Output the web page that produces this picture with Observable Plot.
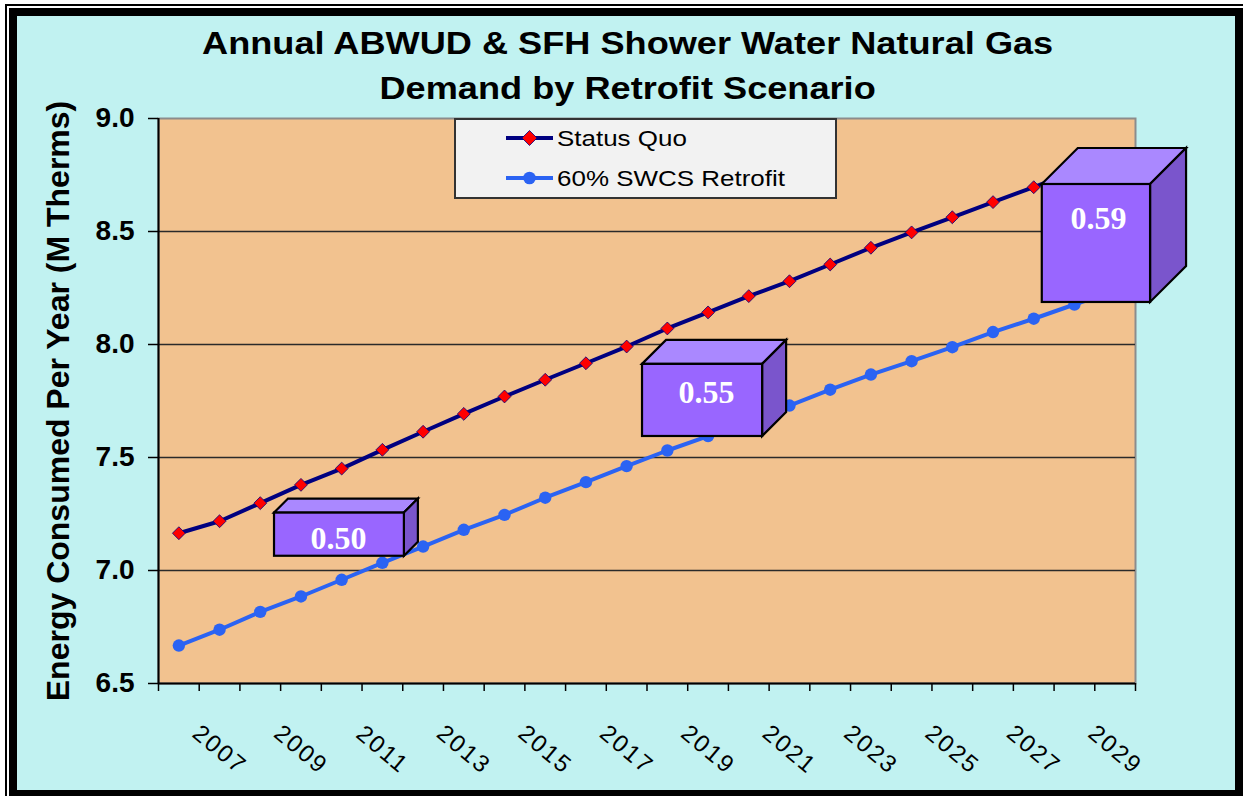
<!DOCTYPE html>
<html>
<head>
<meta charset="utf-8">
<script src="https://cdn.jsdelivr.net/npm/d3@7"></script>
<script src="https://cdn.jsdelivr.net/npm/@observablehq/plot@0.6"></script>
<style>
  html, body { margin: 0; padding: 0; background: #fff; }
  #page { position: relative; width: 1243px; height: 796px; overflow: hidden; background: #fff;
          font-family: "Liberation Sans", Arial, sans-serif; }
  #outer { position: absolute; left: 5px; top: 4px; width: 1260px; height: 820px;
           border-left: 2px solid #000; border-top: 2px solid #000; }
  #blk { position: absolute; left: 9px; top: 8px; width: 1240px; height: 800px; background: #000; }
  #bg { position: absolute; left: 17px; top: 16px; width: 1218px; height: 774px; background: #C1F2F1; }
  #chart { position: absolute; left: 0; top: 0; }
  .tline { position: absolute; left: 0; width: 1256px; text-align: center; font-weight: bold;
           font-size: 32px; line-height: 45px; color: #000; }
  .tline span { display: inline-block; transform: scaleX(1.13); transform-origin: center; }
  #legend { position: absolute; left: 454px; top: 118px; width: 383px; height: 81px; box-sizing: border-box;
            background: #F2F2F2; border: 2px solid #333; }
  .lgsw { position: absolute; left: 504px; width: 52px; height: 20px; }
  .lgtx { position: absolute; left: 557px; font-size: 22px; line-height: 22px; color: #000;
          transform: scaleX(1.18); transform-origin: left center; white-space: nowrap; }
  .xlab text { letter-spacing: 2px; }
</style>
</head>
<body>
<div id="page">
  <div id="outer"></div>
  <div id="blk"></div>
  <div id="bg"></div>
  <div id="chart"></div>
  <div class="tline" style="top:21px"><span>Annual ABWUD &amp; SFH Shower Water Natural Gas</span></div>
  <div class="tline" style="top:66px"><span>Demand by Retrofit Scenario</span></div>
  <div id="legend"></div>
  <svg class="lgsw" style="top:128px" viewBox="0 0 52 20">
    <line x1="2" y1="10" x2="49" y2="10" stroke="#000080" stroke-width="4"/>
    <polygon points="25.5,2.5 33,10 25.5,17.5 18,10" fill="#FF0000" stroke="#000080" stroke-width="0.8"/>
  </svg>
  <div class="lgtx" style="top:128px">Status Quo</div>
  <svg class="lgsw" style="top:168px" viewBox="0 0 52 20">
    <line x1="2" y1="10" x2="49" y2="10" stroke="#2B63F3" stroke-width="4"/>
    <circle cx="25.5" cy="10" r="6.3" fill="#2B63F3"/>
  </svg>
  <div class="lgtx" style="top:168px">60% SWCS Retrofit</div>
</div>
<script>
// ---- data ----
const years = [2006, 2007, 2008, 2009, 2010, 2011, 2012, 2013, 2014, 2015, 2016, 2017,
               2018, 2019, 2020, 2021, 2022, 2023, 2024, 2025, 2026, 2027, 2028, 2029];
const statusQuo = [7.165, 7.218, 7.298, 7.379, 7.451, 7.534, 7.614, 7.693, 7.770, 7.844, 7.917, 7.991,
                   8.071, 8.142, 8.214, 8.280, 8.354, 8.428, 8.496, 8.563, 8.630, 8.696, 8.765, 8.833];
const retrofit  = [6.668, 6.738, 6.817, 6.885, 6.959, 7.034, 7.106, 7.180, 7.246, 7.322, 7.391, 7.462,
                   7.531, 7.595, 7.662, 7.730, 7.800, 7.867, 7.926, 7.988, 8.055, 8.114, 8.177, 8.240];
const seriesNames = ["Status Quo", "60% SWCS Retrofit"];
const yTicks = [6.5, 7.0, 7.5, 8.0, 8.5, 9.0];
const xTickLabels = [2007, 2009, 2011, 2013, 2015, 2017, 2019, 2021, 2023, 2025, 2027, 2029];
const yTitle = "Energy Consumed Per Year (M Therms)";

// savings callouts (difference labels)
const calloutLabels = ["0.50", "0.55", "0.59"];
// callout geometry (annotation placement, in data units; depth in px)
const calloutBoxes = [
  {x1: 2008.35, x2: 2011.54, yTop: 7.254, yBot: 7.063, depth: 14},
  {x1: 2017.39, x2: 2020.34, yTop: 7.912, yBot: 7.593, depth: 24},
  {x1: 2027.21, x2: 2029.87, yTop: 8.708, yBot: 8.186, depth: 36}
];
const calloutText = [
  {x: 2009.92, y: 7.097},
  {x: 2018.96, y: 7.739},
  {x: 2028.59, y: 8.513}
];

// ---- build tables ----
const sqRows = years.map((yr, i) => ({year: yr, value: statusQuo[i], series: seriesNames[0]}));
const rfRows = years.map((yr, i) => ({year: yr, value: retrofit[i], series: seriesNames[1]}));
const xBounds = years.map(y => y - 0.5).concat([years[years.length - 1] + 0.5]);
const textRows = calloutLabels.map((t, i) => ({...calloutText[i], text: t}));

function boxes(index, scales) {
  const sx = scales.x, sy = scales.y;
  const g = d3.create("svg:g");
  for (const b of calloutBoxes) {
    const x1 = sx(b.x1), x2 = sx(b.x2), yt = sy(b.yTop), yb = sy(b.yBot), d = b.depth;
    const common = sel => sel.attr("stroke", "#000").attr("stroke-width", 2.2).attr("stroke-linejoin", "miter");
    g.append("polygon")
      .attr("points", [[x1, yt], [x1 + d, yt - d], [x2 + d, yt - d], [x2, yt]].map(p => p.join(",")).join(" "))
      .attr("fill", "#AA88FF").call(common);
    g.append("polygon")
      .attr("points", [[x2, yt], [x2 + d, yt - d], [x2 + d, yb - d], [x2, yb]].map(p => p.join(",")).join(" "))
      .attr("fill", "#7A55CC").call(common);
    g.append("rect").attr("x", x1).attr("y", yt).attr("width", x2 - x1).attr("height", yb - yt)
      .attr("fill", "#9966FF").call(common);
  }
  return g.node();
}

const chart = Plot.plot({
  width: 1243,
  height: 796,
  marginLeft: 158,
  marginRight: 108,
  marginTop: 118,
  marginBottom: 113,
  x: {domain: [2005.5, 2029.5], axis: null},
  y: {domain: [6.5, 9.0], axis: null},
  style: {background: "transparent", fontFamily: "'Liberation Sans', Arial, sans-serif", color: "#000", overflow: "visible"},
  marks: [
    Plot.frame({fill: "#F2C28F", stroke: "#8c8c8c", strokeWidth: 2}),
    Plot.ruleY(yTicks.filter(v => v > 6.5 && v < 9.0), {stroke: "#2a2a2a", strokeWidth: 1.5}),
    Plot.ruleY([6.5], {stroke: "#000", strokeWidth: 2}),
    Plot.ruleX([2005.5], {stroke: "#000", strokeWidth: 2}),
    Plot.axisY({ticks: yTicks, tickFormat: d => d.toFixed(1), tickSize: 10, tickPadding: 14,
                fontSize: 28, fontWeight: "bold", strokeWidth: 1.5}),
    Plot.axisX({ticks: xBounds, tickSize: 8, tickFormat: () => "", strokeWidth: 1.5}),
    Plot.text(xTickLabels, {x: d => d, text: d => String(d), frameAnchor: "bottom", dy: 66, rotate: 40,
                            textAnchor: "middle", lineAnchor: "middle", fontSize: 24, className: "xlab"}),
    Plot.text([yTitle], {frameAnchor: "left", dx: -100, rotate: -90, fontSize: 32, fontWeight: "bold",
                         textAnchor: "middle", lineAnchor: "middle"}),
    Plot.line(sqRows, {x: "year", y: "value", stroke: "#000080", strokeWidth: 4}),
    Plot.dot(sqRows, {x: "year", y: "value", symbol: "diamond2", r: 5.8, fill: "#FF0000", stroke: "#000080", strokeWidth: 0.8}),
    Plot.line(rfRows, {x: "year", y: "value", stroke: "#2B63F3", strokeWidth: 4}),
    Plot.dot(rfRows, {x: "year", y: "value", r: 6.2, fill: "#2B63F3", stroke: "none"}),
    boxes,
    Plot.text(textRows, {x: "x", y: "y", text: "text", fill: "#fff", fontSize: 32, fontWeight: "bold",
                         fontFamily: "'Liberation Serif', 'Times New Roman', serif", lineAnchor: "bottom", textAnchor: "middle"})
  ]
});
document.getElementById("chart").appendChild(chart);
</script>
</body>
</html>
